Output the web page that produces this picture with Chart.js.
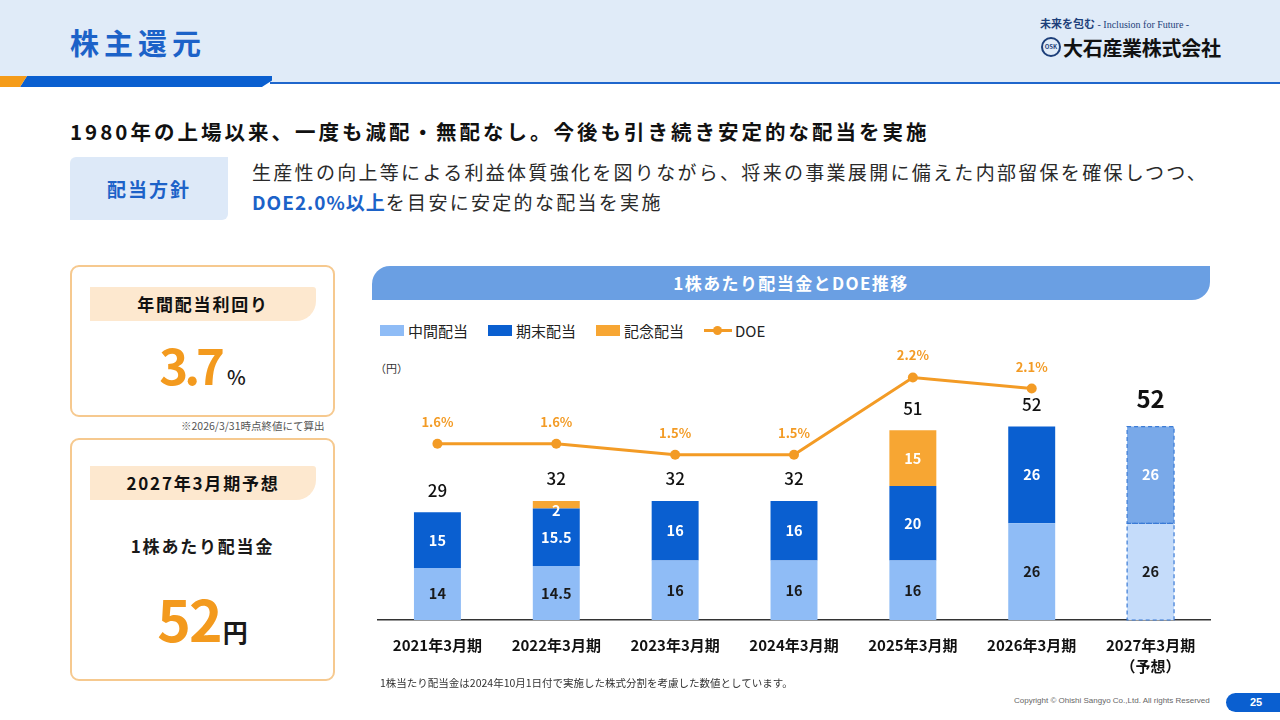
<!DOCTYPE html>
<html lang="ja">
<head>
<meta charset="utf-8">
<script src="https://cdn.jsdelivr.net/npm/chart.js@4.4.1/dist/chart.umd.min.js"></script>
<style>
  * { margin: 0; padding: 0; box-sizing: border-box; }
  body { width: 1280px; height: 720px; background: #fff; position: relative; overflow: hidden;
         font-family: "Noto Sans CJK JP", "Noto Sans", sans-serif; color: #1a1a1a; }
  .abs { position: absolute; }
  #header { left: 0; top: 0; width: 1280px; height: 82px; background: #e0ebf8; }
  #title { left: 70px; top: 21px; font-size: 29px; font-weight: 700; color: #1c62c8; letter-spacing: 5px; }
  #barOrange { left: 0; top: 76px; width: 28px; height: 11px; background: #f59c1a;
               clip-path: polygon(0 0, 27px 0, 20px 100%, 0 100%); }
  #barBlue { left: 20px; top: 76px; width: 252px; height: 11px; background: #0a5fd0;
             clip-path: polygon(7px 0, 100% 0, 100% 40%, 96% 100%, 0 100%); }
  #thinLine { left: 270px; top: 82px; width: 1010px; height: 2px; background: #1f66cc; }
  #tagline { left: 1040px; top: 15px; font-size: 11px; color: #1d3f7a; font-weight: 700; }
  #tagline span { font-family: "Liberation Serif", serif; font-weight: 400; font-size: 10px; }
  #logoMark { left: 1041px; top: 37px; width: 20px; height: 20px; border: 2px solid #1d3f7a; border-radius: 50%;
              font-size: 6px; font-weight: 700; color: #1d3f7a; text-align: center; line-height: 16px; }
  #logoText { left: 1063px; top: 33px; font-size: 20px; font-weight: 700; color: #111; letter-spacing: -0.3px; }
  #headline { left: 70px; top: 116px; font-size: 20.5px; font-weight: 700; color: #111; letter-spacing: 3px; }
  #policyTag { left: 70px; top: 157px; width: 158px; height: 63px; background: #dde9f8; border-radius: 6px 0 6px 0;
               font-size: 19px; font-weight: 700; color: #1c62c8; text-align: center; line-height: 63px; letter-spacing: 2px; }
  #policyText { left: 252px; top: 157px; font-size: 19px; line-height: 30px; color: #2a2a2a; letter-spacing: 2.3px; }
  #policyText b { color: #1c62c8; letter-spacing: 1px; }
  .card { left: 70px; width: 265px; border: 2.5px solid #f6c98f; border-radius: 9px; }
  .strip { left: 90px; width: 226px; height: 34px; background: #fde8cf; border-radius: 0 3px 20px 0;
           font-size: 17px; font-weight: 700; text-align: center; line-height: 34px; letter-spacing: 1.8px; color: #111; }
  .bigNum { color: #f39a1e; font-weight: 700; }
  #note1 { left: 181px; top: 418px; font-size: 10.5px; color: #555; }
  #banner { left: 372px; top: 266px; width: 838px; height: 34px; background: #6a9fe3; border-radius: 18px 0 18px 0;
            color: #fff; font-size: 17px; font-weight: 700; text-align: center; line-height: 34px; letter-spacing: 1.4px; }
  #legend { left: 380px; top: 320px; display: flex; align-items: center; font-size: 15px; color: #222; }
  .lg { display: flex; align-items: center; margin-right: 20px; }
  .sw { width: 24px; height: 11px; margin-right: 4px; }
  .lnsw { position: relative; width: 28px; height: 11px; margin-right: 3px; }
  .lnsw i { position: absolute; left: 0; top: 4px; width: 28px; height: 3px; }
  .lnsw b { position: absolute; left: 9px; top: 1px; width: 9px; height: 9px; border-radius: 50%; }
  #unit { left: 375px; top: 360px; font-size: 11px; color: #333; }
  #chartBox { left: 372px; top: 345px; width: 843px; height: 335px; }
  #foot { left: 380px; top: 675px; font-size: 10.5px; color: #333; }
  #copy { left: 1014px; top: 696px; font-size: 8px; color: #666; font-family: "Liberation Sans", sans-serif; }
  #page { left: 1226px; top: 693px; width: 60px; height: 19px; background: #0a5fd0; border-radius: 10px 0 0 10px;
          color: #fff; font-size: 11px; font-weight: 700; line-height: 19px; padding-left: 24px; font-family: "Liberation Sans", sans-serif; }
</style>
</head>
<body>
<div id="header" class="abs"></div>
<div id="title" class="abs">株主還元</div>
<div id="thinLine" class="abs"></div>
<div id="barBlue" class="abs"></div>
<div id="barOrange" class="abs"></div>
<div id="tagline" class="abs">未来を包む <span>- Inclusion for Future -</span></div>
<div id="logoMark" class="abs">OSK</div>
<div id="logoText" class="abs">大石産業株式会社</div>

<div id="headline" class="abs">1980年の上場以来、一度も減配・無配なし。今後も引き続き安定的な配当を実施</div>
<div id="policyTag" class="abs">配当方針</div>
<div id="policyText" class="abs">生産性の向上等による利益体質強化を図りながら、将来の事業展開に備えた内部留保を確保しつつ、<br><b>DOE2.0%以上</b>を目安に安定的な配当を実施</div>

<div class="abs card" style="top:265px;height:152px;"></div>
<div class="abs strip" style="top:287px;">年間配当利回り</div>
<div class="abs" style="left:70px;top:328px;width:265px;text-align:center;">
  <span class="bigNum" style="font-size:49px;letter-spacing:-4px;">3.7</span><span style="font-size:20px;font-weight:500;margin-left:6px;">%</span>
</div>
<div id="note1" class="abs">※2026/3/31時点終値にて算出</div>

<div class="abs card" style="top:438px;height:243px;"></div>
<div class="abs strip" style="top:466px;">2027年3月期予想</div>
<div class="abs" style="left:70px;top:533px;width:265px;text-align:center;font-size:17px;font-weight:700;letter-spacing:1.8px;">1株あたり配当金</div>
<div class="abs" style="left:70px;top:576px;width:265px;text-align:center;">
  <span class="bigNum" style="font-size:57px;letter-spacing:-2px;">52</span><span style="font-size:25px;font-weight:700;margin-left:2px;">円</span>
</div>

<div id="banner" class="abs">1株あたり配当金とDOE推移</div>
<div id="legend" class="abs"></div>
<div id="unit" class="abs">（円）</div>
<div id="chartBox" class="abs"><canvas id="chart"></canvas></div>
<div id="foot" class="abs">1株当たり配当金は2024年10月1日付で実施した株式分割を考慮した数値としています。</div>
<div id="copy" class="abs">Copyright © Ohishi Sangyo Co.,Ltd. All rights Reserved</div>
<div id="page" class="abs">25</div>

<script>
// data
const periods = ['2021年3月期', '2022年3月期', '2023年3月期', '2024年3月期', '2025年3月期', '2026年3月期', ['2027年3月期', '（予想）']];
const interim = [14, 14.5, 16, 16, 16, 26, 26];
const yearEnd = [15, 15.5, 16, 16, 20, 26, 26];
const commemorative = [null, 2, null, null, 15, null, null];
const doe = [1.6, 1.6, 1.5, 1.5, 2.2, 2.1, null];
const seriesNames = ['中間配当', '期末配当', '記念配当', 'DOE'];
const forecastIndex = 6;

const cLight = '#8fbcf6', cDark = '#0a5fd0', cOrange = '#f7a633', cLine = '#f39b25';
const cLightF = '#c5dcfa', cDarkF = '#79a9e9';

// html legend
const legend = document.getElementById('legend');
[cLight, cDark, cOrange].forEach((c, i) => {
    legend.insertAdjacentHTML('beforeend', `<div class="lg"><div class="sw" style="background:${c}"></div>${seriesNames[i]}</div>`);
});
legend.insertAdjacentHTML('beforeend', `<div class="lg"><div class="lnsw"><i style="background:${cLine}"></i><b style="background:${cLine}"></b></div>${seriesNames[3]}</div>`);

const withForecast = (base, f) => periods.map((p, i) => i === forecastIndex ? f : base);

const labelPlugin = {
    id: 'barLabels',
    afterDatasetsDraw(chart) {
        const ctx = chart.ctx;
        ctx.save();
        ctx.textAlign = 'center';
        ctx.textBaseline = 'middle';

        // dashed outline on the forecast bar
        ctx.setLineDash([4, 3]);
        ctx.strokeStyle = '#3b7bd6';
        ctx.lineWidth = 1.2;
        [0, 1].forEach(di => {
            const b = chart.getDatasetMeta(di).data[forecastIndex];
            ctx.strokeRect(b.x - b.width / 2, b.y, b.width, b.base - b.y);
        });
        ctx.setLineDash([]);

        // values inside segments
        const txtColors = ['#1a1a1a', '#fff', '#fff'];
        [0, 1, 2].forEach(di => {
            const ds = chart.data.datasets[di];
            chart.getDatasetMeta(di).data.forEach((b, i) => {
                const v = ds.data[i];
                if (!v) return;
                const h = b.base - b.y;
                let y = (b.y + b.base) / 2;
                if (h < 16) y = b.base + 2;
                ctx.fillStyle = txtColors[di];
                ctx.font = '700 14.5px "Noto Sans CJK JP"';
                ctx.fillText(String(v), b.x, y);
            });
        });

        // totals above bars
        periods.forEach((p, i) => {
            let top = Infinity, total = 0;
            [0, 1, 2].forEach(di => {
                const v = chart.data.datasets[di].data[i];
                if (!v) return;
                total += v;
                top = Math.min(top, chart.getDatasetMeta(di).data[i].y);
            });
            const x = chart.getDatasetMeta(0).data[i].x;
            ctx.fillStyle = '#111';
            if (i === forecastIndex) {
                ctx.font = '700 24px "Noto Sans CJK JP"';
                ctx.fillText(String(total), x, top - 28);
            } else {
                ctx.font = '500 17px "Noto Sans CJK JP"';
                ctx.fillText(String(total), x, top - 22);
            }
        });

        // DOE labels
        ctx.fillStyle = cLine;
        ctx.font = '700 13px "Noto Sans CJK JP"';
        chart.getDatasetMeta(3).data.forEach((pt, i) => {
            const v = doe[i];
            if (v == null) return;
            ctx.fillText(v.toFixed(1) + '%', pt.x, pt.y - 22);
        });
        ctx.restore();
    }
};

Chart.defaults.font.family = '"Noto Sans CJK JP", "Noto Sans", sans-serif';

new Chart(document.getElementById('chart'), {
    type: 'bar',
    data: {
        labels: periods,
        datasets: [
            { label: seriesNames[0], data: interim, backgroundColor: withForecast(cLight, cLightF), stack: 's', order: 2 },
            { label: seriesNames[1], data: yearEnd, backgroundColor: withForecast(cDark, cDarkF), stack: 's', order: 2 },
            { label: seriesNames[2], data: commemorative, backgroundColor: cOrange, stack: 's', order: 2 },
            { label: seriesNames[3], data: doe, type: 'line', yAxisID: 'y2', borderColor: cLine, backgroundColor: cLine,
              borderWidth: 3, pointRadius: 5, pointBackgroundColor: cLine, pointBorderWidth: 0, order: 1, spanGaps: false }
        ]
    },
    options: {
        responsive: true,
        maintainAspectRatio: false,
        animation: false,
        layout: { padding: { left: 6, right: 2, top: 0, bottom: 0 } },
        datasets: { bar: { barPercentage: 0.395, categoryPercentage: 1 } },
        plugins: { legend: { display: false }, tooltip: { enabled: false } },
        scales: {
            x: {
                stacked: true,
                grid: { display: false, drawTicks: false },
                border: { display: true, color: '#333', width: 1.5 },
                ticks: { color: '#111', font: { size: 15, weight: '700', lineHeight: 1.45 }, padding: 14, maxRotation: 0 },
                afterFit: s => { s.height = 60; }
            },
            y: { stacked: true, display: false, min: 0, max: 72.6 },
            y2: { display: false, min: 0, max: 2.45 }
        }
    },
    plugins: [labelPlugin]
});
</script>
</body>
</html>
